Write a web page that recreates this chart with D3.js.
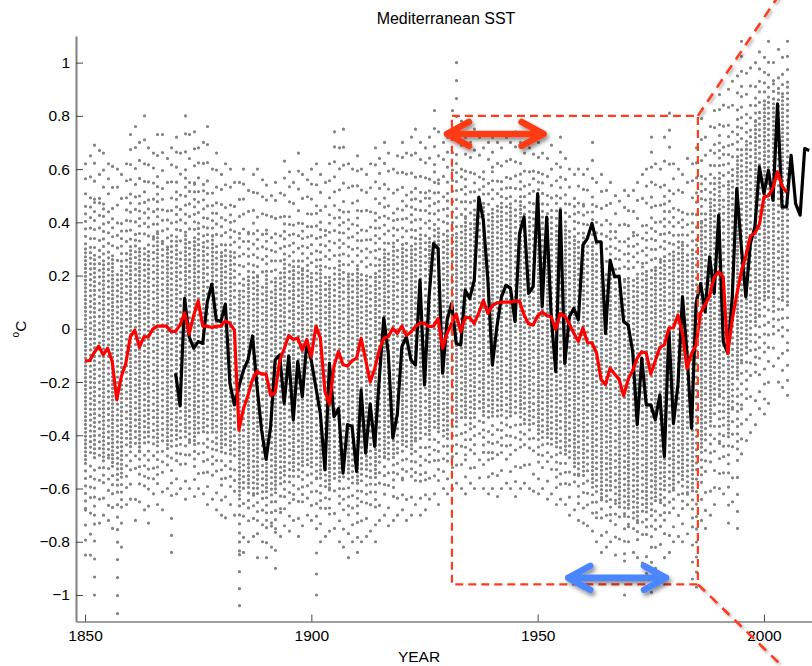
<!DOCTYPE html>
<html><head><meta charset="utf-8">
<script src="https://cdn.jsdelivr.net/npm/d3@7"></script>
<style>
body{margin:0;background:#fff;}
svg{display:block;font-family:"Liberation Sans",Arial,Helvetica,sans-serif;}
</style>
</head><body>
<svg id="chart" width="812" height="666"></svg>
<script>
// ---------------- DATA ----------------
const title = "Mediterranean SST";
const xLabel = "YEAR";
const xTickValues = [1850, 1900, 1950, 2000];
const yTickValues = [-1, -0.8, -0.6, -0.4, -0.2, 0, 0.2, 0.4, 0.6, 0.8, 1];

// gray observation cloud, one column per year from 1850 to 2005
const cloudStartYear = 1850;
const cloudOuterHi = [
 0.62,0.65,0.69,0.67,0.66,0.62,0.61,0.60,0.58,0.62,
 0.73,0.76,0.70,0.80,0.68,0.66,0.73,0.73,0.64,0.68,
 0.72,0.66,0.80,0.73,0.74,0.68,0.70,0.76,0.60,0.66,
 0.58,0.62,0.60,0.55,0.55,0.60,0.52,0.58,0.60,0.56,
 0.54,0.50,0.55,0.51,0.63,0.59,0.55,0.66,0.58,0.56,
 0.60,0.62,0.58,0.55,0.62,0.74,0.68,0.75,0.62,0.60,
 0.65,0.60,0.58,0.62,0.68,0.64,0.70,0.66,0.60,0.65,
 0.70,0.66,0.72,0.75,0.70,0.68,0.72,0.82,0.74,0.70,
 0.72,0.82,1.00,0.78,0.72,0.70,0.75,0.72,0.68,0.70,
 0.72,0.70,0.68,0.72,0.70,0.74,0.70,0.66,0.68,0.72,
 0.70,0.66,0.64,0.69,0.62,0.72,0.64,0.60,0.58,0.60,
 0.58,0.60,0.70,0.55,0.58,0.52,0.55,0.50,0.48,0.52,
 0.50,0.52,0.55,0.58,0.60,0.72,0.62,0.60,0.72,0.81,
 0.62,0.60,0.58,0.64,0.62,0.68,0.79,0.72,0.76,0.82,
 0.88,0.84,0.90,0.93,0.95,1.08,0.96,0.98,1.00,1.04,
 1.02,1.08,1.00,1.05,1.02,1.08];
const cloudCoreHi = [
 0.30,0.32,0.28,0.30,0.26,0.30,0.28,0.22,0.25,0.30,
 0.32,0.35,0.30,0.32,0.30,0.34,0.36,0.32,0.30,0.33,
 0.35,0.30,0.36,0.33,0.35,0.40,0.34,0.38,0.35,0.32,
 0.30,0.32,0.30,0.28,0.15,0.18,0.20,0.22,0.20,0.18,
 0.20,0.16,0.20,0.22,0.26,0.25,0.24,0.26,0.22,0.25,
 0.22,0.28,0.25,0.18,0.20,0.22,0.26,0.22,0.20,0.22,
 0.25,0.22,0.20,0.18,0.22,0.26,0.30,0.30,0.32,0.30,
 0.32,0.30,0.32,0.34,0.36,0.34,0.35,0.38,0.36,0.33,
 0.35,0.38,0.36,0.40,0.42,0.40,0.44,0.46,0.48,0.45,
 0.46,0.45,0.48,0.46,0.47,0.45,0.48,0.44,0.42,0.45,
 0.44,0.45,0.42,0.43,0.38,0.42,0.40,0.38,0.36,0.34,
 0.35,0.32,0.33,0.30,0.25,0.22,0.24,0.22,0.20,0.18,
 0.20,0.20,0.22,0.24,0.22,0.20,0.22,0.25,0.28,0.30,
 0.30,0.34,0.32,0.28,0.30,0.32,0.40,0.45,0.50,0.55,
 0.58,0.50,0.55,0.60,0.65,0.68,0.70,0.75,0.78,0.82,
 0.85,0.88,0.85,0.90,0.88,0.92];
const cloudCoreLo = [
 -0.50,-0.48,-0.50,-0.45,-0.50,-0.48,-0.52,-0.60,-0.55,-0.45,
 -0.45,-0.42,-0.46,-0.44,-0.42,-0.45,-0.44,-0.42,-0.45,-0.46,
 -0.42,-0.45,-0.40,-0.42,-0.44,-0.38,-0.40,-0.42,-0.40,-0.44,
 -0.45,-0.44,-0.46,-0.50,-0.65,-0.62,-0.60,-0.62,-0.60,-0.64,
 -0.62,-0.64,-0.62,-0.58,-0.55,-0.56,-0.54,-0.55,-0.52,-0.50,
 -0.52,-0.56,-0.55,-0.60,-0.60,-0.55,-0.56,-0.58,-0.55,-0.56,
 -0.58,-0.55,-0.54,-0.60,-0.56,-0.50,-0.48,-0.50,-0.48,-0.46,
 -0.45,-0.44,-0.46,-0.42,-0.40,-0.42,-0.40,-0.38,-0.40,-0.42,
 -0.40,-0.38,-0.36,-0.35,-0.34,-0.36,-0.34,-0.32,-0.33,-0.35,
 -0.33,-0.34,-0.32,-0.35,-0.34,-0.33,-0.32,-0.35,-0.36,-0.38,
 -0.40,-0.42,-0.42,-0.44,-0.46,-0.45,-0.48,-0.50,-0.52,-0.55,
 -0.56,-0.55,-0.58,-0.60,-0.64,-0.66,-0.62,-0.65,-0.68,-0.70,
 -0.68,-0.70,-0.72,-0.70,-0.68,-0.70,-0.66,-0.65,-0.62,-0.60,
 -0.60,-0.55,-0.58,-0.62,-0.60,-0.55,-0.45,-0.40,-0.35,-0.30,
 -0.25,-0.35,-0.40,-0.30,-0.20,-0.12,-0.08,-0.05,0.00,0.05,
 0.10,0.12,0.08,0.15,0.12,0.10];
const cloudOuterLo = [
 -0.85,-0.85,-1.00,-0.73,-0.70,-0.72,-0.75,-1.07,-0.82,-0.66,
 -0.64,-0.72,-0.65,-0.68,-0.73,-0.62,-0.66,-0.68,-0.60,-0.84,
 -0.62,-0.60,-0.64,-0.60,-0.63,-0.60,-0.62,-0.66,-0.64,-0.68,
 -0.70,-0.71,-0.66,-0.70,-1.04,-0.84,-0.80,-0.78,-0.86,-0.80,
 -0.86,-0.82,-0.90,-0.78,-0.74,-0.76,-0.72,-0.78,-0.74,-0.70,
 -0.72,-1.00,-0.80,-0.78,-0.76,-0.75,-0.80,-0.82,-0.86,-0.80,
 -0.84,-0.80,-0.78,-0.76,-0.80,-0.72,-0.70,-0.74,-0.72,-0.70,
 -0.68,-0.72,-0.70,-0.66,-0.70,-0.68,-0.64,-0.62,-0.66,-0.60,
 -0.62,-0.60,-0.58,-0.60,-0.62,-0.58,-0.60,-0.56,-0.60,-0.62,
 -0.60,-0.63,-0.60,-0.58,-0.60,-0.63,-0.60,-0.58,-0.60,-0.61,
 -0.62,-0.60,-0.64,-0.62,-0.66,-0.64,-0.66,-0.70,-0.68,-0.72,
 -0.73,-0.74,-0.76,-0.80,-0.84,-0.82,-0.80,-0.85,-0.79,-1.00,
 -0.80,-0.84,-0.86,-0.88,-0.92,-0.99,-0.90,-0.81,-0.86,-0.84,
 -0.80,-0.78,-0.80,-0.77,-0.94,-0.97,-0.72,-0.75,-0.70,-0.66,
 -0.60,-0.62,-0.73,-0.65,-0.75,-0.47,-0.42,-0.39,-0.36,-0.30,
 -0.32,-0.28,-0.14,-0.20,-0.22,-0.25];

// black annual series, 1870-2010
const blackStartYear = 1870;
const blackValues = [
 -0.167,-0.29,0.114,-0.03,-0.073,-0.048,-0.055,0.10,0.168,0.033,
 0.027,0.093,-0.204,-0.286,-0.217,-0.155,-0.117,-0.027,-0.217,-0.38,
 -0.49,-0.367,-0.117,-0.098,-0.28,-0.102,-0.342,-0.123,-0.255,-0.05,
 -0.12,-0.22,-0.32,-0.53,-0.13,-0.33,-0.30,-0.542,-0.36,-0.367,
 -0.536,-0.23,-0.467,-0.282,-0.442,-0.19,0.04,-0.092,-0.41,-0.32,
 -0.067,-0.03,-0.117,-0.136,0.183,-0.211,0.12,0.32,0.302,-0.167,
 0.033,0.095,-0.055,-0.061,0.145,0.114,0.183,0.495,0.408,0.183,
 -0.136,0.008,0.12,0.164,0.152,0.027,0.358,0.42,0.133,0.158,
 0.508,0.083,0.42,0.045,-0.161,0.445,-0.13,0.045,0.077,0.033,
 0.314,0.34,0.396,0.327,0.327,-0.017,0.258,0.195,0.198,0.027,
 0.014,-0.086,-0.36,-0.11,-0.286,-0.286,-0.342,-0.248,-0.48,-0.005,
 -0.355,-0.21,0.12,-0.092,-0.373,0.096,0.17,0.064,0.27,0.133,
 0.427,-0.048,-0.092,0.12,0.527,0.308,0.12,0.32,0.383,0.608,
 0.508,0.595,0.483,0.845,0.458,0.458,0.652,0.47,0.427,0.677,
 0.67];

// red annual series, 1850-2005
const redStartYear = 1850;
const redValues = [
 -0.12,-0.12,-0.09,-0.065,-0.098,-0.073,-0.123,-0.267,-0.18,-0.13,
 -0.03,-0.005,-0.07,-0.03,-0.03,0.0,0.01,0.01,0.01,-0.01,
 -0.01,0.015,0.06,-0.02,0.05,0.105,0.01,0.01,0.005,0.01,
 0.01,0.03,0.02,-0.005,-0.38,-0.30,-0.25,-0.19,-0.16,-0.17,
 -0.17,-0.25,-0.24,-0.12,-0.075,-0.025,-0.04,-0.035,-0.08,-0.04,
 -0.105,0.01,-0.035,-0.235,-0.283,-0.14,-0.085,-0.135,-0.14,-0.12,
 -0.11,-0.036,-0.117,-0.20,-0.15,-0.08,-0.036,-0.03,0.002,-0.017,
 0.01,-0.025,-0.012,0.008,0.022,0.02,0.008,0.01,0.038,-0.073,
 -0.017,0.02,0.055,-0.011,0.042,0.042,0.02,0.06,0.106,0.058,
 0.088,0.097,0.10,0.10,0.10,0.105,0.103,0.052,0.018,0.014,
 0.048,0.063,0.05,0.045,-0.003,0.058,0.048,0.019,-0.017,-0.048,
 0.004,-0.052,-0.053,-0.09,-0.19,-0.21,-0.148,-0.17,-0.19,-0.252,
 -0.19,-0.157,-0.11,-0.086,-0.091,-0.17,-0.12,-0.07,-0.06,0.002,
 0.004,0.052,-0.017,-0.15,-0.092,-0.063,0.06,0.09,0.125,0.193,
 0.214,0.195,-0.092,0.035,0.13,0.214,0.275,0.348,0.36,0.393,
 0.495,0.50,0.53,0.59,0.537,0.512];

// annotation anchors (data units)
const boxYears = [1931.06, 1985.4];
const boxValues = [-0.96, 0.8];
const zoomLineTopEnd = [2005.5, 1.308];
const zoomLineBottomEnd = [2008.4, -1.339];
const redArrow = {from: 1929.97, to: 1951.3, value: 0.732};
const blueArrow = {from: 1956.77, to: 1978.36, value: -0.9355};

// ---------------- CHART ----------------
const svg = d3.select("#chart");
const x = d3.scaleLinear().domain([1848, 2011.5]).range([76, 816]);
const y = d3.scaleLinear().domain([-1.1, 1.1]).range([621.6, 36]);

const defs = svg.append("defs");
const f = defs.append("filter").attr("id","shadow")
  .attr("x","-30%").attr("y","-60%").attr("width","160%").attr("height","220%");
f.append("feDropShadow").attr("dx",2).attr("dy",3).attr("stdDeviation",2)
  .attr("flood-color","#000").attr("flood-opacity",0.45);
const f2 = defs.append("filter").attr("id","shadowLight")
  .attr("x","-30%").attr("y","-30%").attr("width","160%").attr("height","160%");
f2.append("feDropShadow").attr("dx",2).attr("dy",2).attr("stdDeviation",1.5)
  .attr("flood-color","#000").attr("flood-opacity",0.3);

// cloud of dots
const gDots = svg.append("g").attr("stroke","#828282").attr("stroke-width",3.2)
  .attr("stroke-linecap","round").attr("fill","none");
function dotSeg(cx, ya, yb, gap, off){
  gDots.append("line").attr("x1",cx).attr("x2",cx).attr("y1",ya).attr("y2",yb)
    .attr("stroke-dasharray",`0 ${gap}`).attr("stroke-dashoffset",off||0);
}
const coreGaps = [3.9, 5.4, 4.4, 6.6, 4.0, 5.8];
const nearGaps = [7.5, 10.5, 9, 12.5];
const farGaps = [15, 21, 18, 24, 17];
cloudOuterHi.forEach((_, i) => {
  const yr = cloudStartYear + i;
  const cx = Math.round(x(yr)) + 0.5;
  const oh = y(cloudOuterHi[i]), ch = y(cloudCoreHi[i]);
  const cl = y(cloudCoreLo[i]), ol = y(cloudOuterLo[i]);
  const mu = (oh + ch) / 2, ml = (ol + cl) / 2;
  const cg = coreGaps[i % coreGaps.length];
  const ng = nearGaps[i % nearGaps.length];
  const fg = farGaps[i % farGaps.length];
  dotSeg(cx, ch, cl, cg, (i * 1.7) % cg);
  dotSeg(cx, oh, mu, fg, 0);
  dotSeg(cx, mu, ch, ng, (i * 3.1) % ng);
  dotSeg(cx, ol, ml, fg, 0);
  dotSeg(cx, ml, cl, ng, (i * 2.3) % ng);
});

// lines
const line = d3.line().x(d => x(d[0])).y(d => y(d[1]));
const blackData = blackValues.map((v, i) => [blackStartYear + i, v]);
const redData = redValues.map((v, i) => [redStartYear + i, v]);
svg.append("path").datum(blackData).attr("d", line)
  .attr("fill","none").attr("stroke","#000").attr("stroke-width",3.2)
  .attr("stroke-linejoin","round");
svg.append("path").datum(redData).attr("d", line)
  .attr("fill","none").attr("stroke","#ff0000").attr("stroke-width",3.2)
  .attr("stroke-linejoin","round");

// axes
const yAxis = d3.axisLeft(y).tickValues(yTickValues).tickSizeInner(-7)
  .tickSizeOuter(0).tickPadding(6).tickFormat(d3.format(""));
const gy = svg.append("g").attr("transform","translate(76,0)").call(yAxis);
gy.select(".domain").attr("stroke","#808080").attr("stroke-width",2);
const xAxis = d3.axisBottom(x).tickValues(xTickValues).tickSizeInner(-7)
  .tickSizeOuter(0).tickPadding(8).tickFormat(d3.format("d"));
const gx = svg.append("g").attr("transform","translate(0,621.6)").call(xAxis);
gx.select(".domain").attr("stroke","#808080").attr("stroke-width",1.5);
[gx, gy].forEach(g => {
  g.attr("font-family", null).attr("font-size", null);
  g.selectAll(".tick line").attr("stroke","#444");
  g.selectAll(".tick text").attr("fill","#000").style("font-size","15.5px");
});

// titles
svg.append("text").attr("x",446).attr("y",24).attr("text-anchor","middle")
  .style("font-size","16px").text(title);
svg.append("text").attr("x",419).attr("y",662).attr("text-anchor","middle")
  .style("font-size","15.5px").text(xLabel);
const yl = svg.append("text").attr("transform","translate(26,329) rotate(-90)")
  .attr("text-anchor","middle").style("font-size","15.5px");
yl.append("tspan").attr("dy",-7).style("font-size","10px").text("o");
yl.append("tspan").attr("dy",7).text("C");

// annotations: dashed box and zoom lines
const dashColor = "#ff3b1e";
svg.append("rect")
  .attr("x", x(boxYears[0])).attr("y", y(boxValues[1]))
  .attr("width", x(boxYears[1]) - x(boxYears[0]))
  .attr("height", y(boxValues[0]) - y(boxValues[1]))
  .attr("fill","none").attr("stroke",dashColor).attr("stroke-width",2.2)
  .attr("stroke-dasharray","8 5");
svg.append("line").attr("x1", x(boxYears[1])).attr("y1", y(boxValues[1]))
  .attr("x2", x(zoomLineTopEnd[0])).attr("y2", y(zoomLineTopEnd[1]))
  .attr("stroke",dashColor).attr("stroke-width",2.6).attr("stroke-dasharray","10 7")
  .attr("filter","url(#shadowLight)");
svg.append("line").attr("x1", x(boxYears[1])).attr("y1", y(boxValues[0]))
  .attr("x2", x(zoomLineBottomEnd[0])).attr("y2", y(zoomLineBottomEnd[1]))
  .attr("stroke",dashColor).attr("stroke-width",2.6).attr("stroke-dasharray","10 7")
  .attr("filter","url(#shadowLight)");

// double arrows
function doubleArrow(a, color){
  const x1 = x(a.from), x2 = x(a.to), yc = y(a.value);
  const hx = 22, hy = 12;
  const d = `M${x1},${yc}L${x2},${yc}` +
            `M${x1+hx},${yc-hy}L${x1},${yc}L${x1+hx},${yc+hy}` +
            `M${x2-hx},${yc-hy}L${x2},${yc}L${x2-hx},${yc+hy}`;
  svg.append("path").attr("d", d).attr("fill","none").attr("stroke", color)
    .attr("stroke-width",6.5).attr("stroke-linecap","round").attr("stroke-linejoin","round")
    .attr("filter","url(#shadow)");
}
doubleArrow(redArrow, "#ff3a12");
doubleArrow(blueArrow, "#4a86ff");
</script>
</body></html>
